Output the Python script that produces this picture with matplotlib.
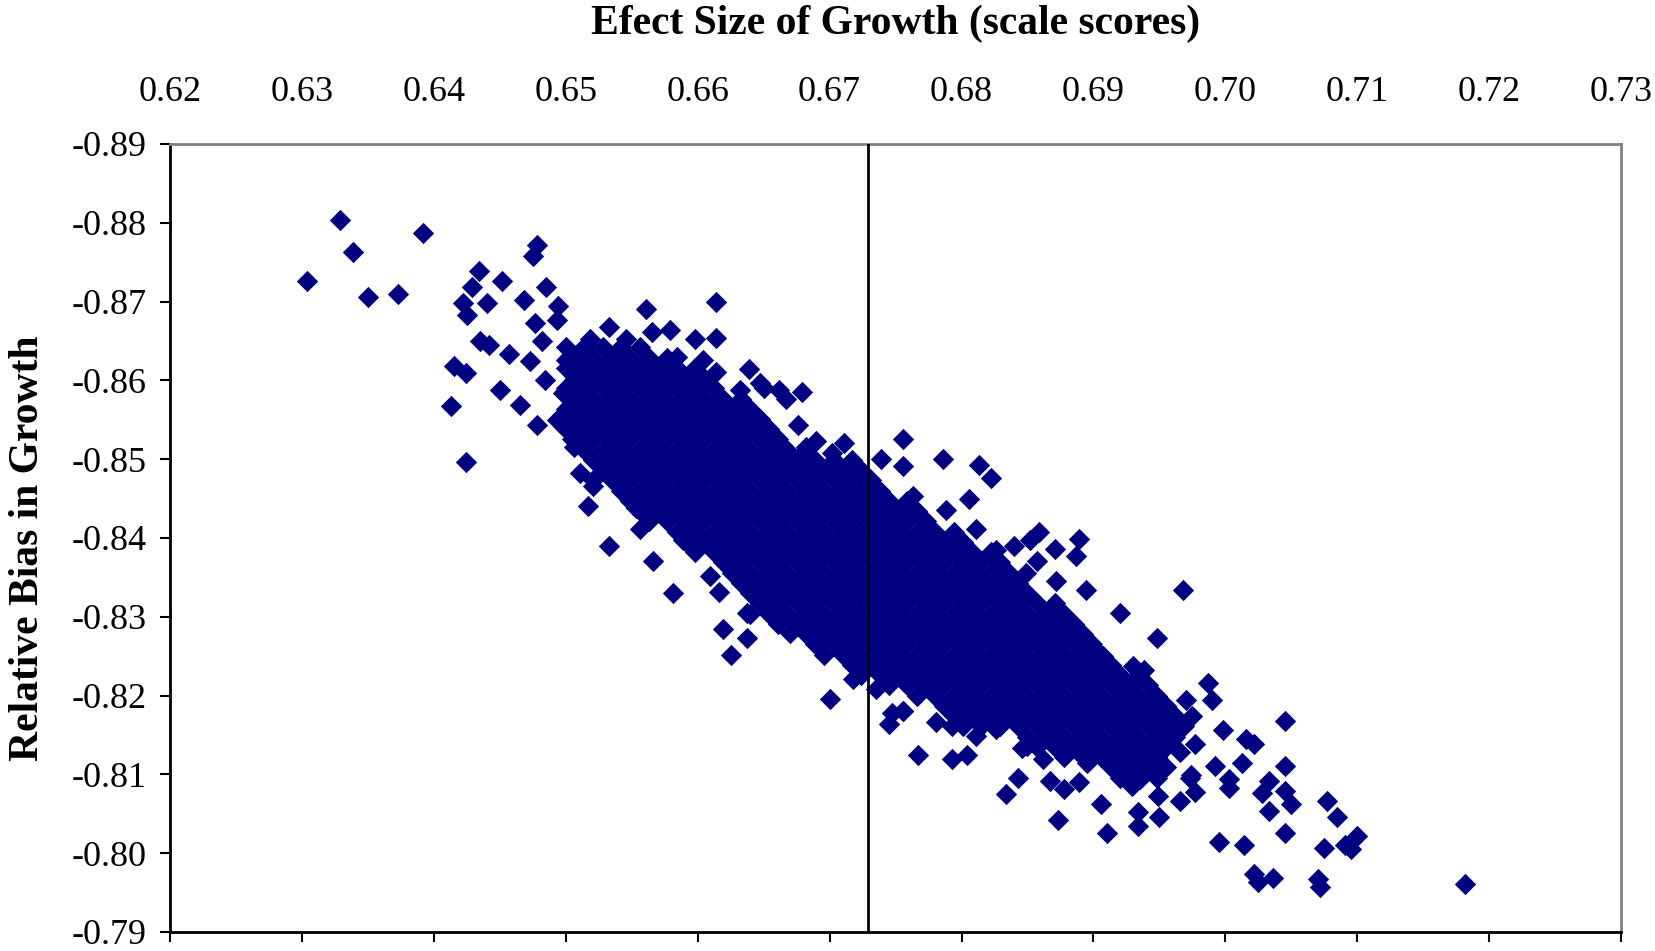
import matplotlib
matplotlib.use("Agg")
import matplotlib.pyplot as plt

plt.rcParams['font.family'] = ['Liberation Serif', 'DejaVu Serif']

# upper-left tail of the cloud (single points)
left_x = [0.6329, 0.6392, 0.6339, 0.6304, 0.6350, 0.6373, 0.6478, 0.6475, 0.6434, 0.6452,
          0.6429, 0.6485, 0.6422, 0.6440, 0.6425, 0.6468, 0.6494, 0.6477, 0.6493, 0.6561,
          0.6533, 0.6546, 0.6565, 0.6435, 0.6442, 0.6457, 0.6482, 0.6415, 0.6424, 0.6473,
          0.6450, 0.6484, 0.6465, 0.6413, 0.6478, 0.6493, 0.6424, 0.6517, 0.6511, 0.6521,
          0.6505, 0.6498, 0.6500, 0.6518, 0.6553]
left_y = [-0.8803, -0.8787, -0.8763, -0.8726, -0.8706, -0.8710, -0.8772, -0.8758, -0.8739, -0.8726,
          -0.8718, -0.8718, -0.8698, -0.8698, -0.8683, -0.8702, -0.8695, -0.8673, -0.8677, -0.8690,
          -0.8668, -0.8652, -0.8662, -0.8650, -0.8645, -0.8633, -0.8650, -0.8618, -0.8609, -0.8624,
          -0.8588, -0.8601, -0.8569, -0.8568, -0.8544, -0.8550, -0.8496, -0.8440, -0.8483, -0.8466,
          -0.8525, -0.8584, -0.8626, -0.8652, -0.8438]

# loose points along the edges of the dense middle
edge_x = [0.6614, 0.6579, 0.6598, 0.6614, 0.6639, 0.6614, 0.6662, 0.6679, 0.6647, 0.6676,
          0.6690, 0.6711, 0.6756, 0.6786, 0.6813, 0.6822, 0.6739, 0.6756, 0.6763, 0.6788,
          0.6806, 0.6811, 0.6826, 0.6840,
          0.6584, 0.6604, 0.6650, 0.6632, 0.6667, 0.6702, 0.6682,
          0.6533, 0.6566, 0.6581, 0.6616, 0.6609, 0.6589, 0.6556, 0.6521, 0.6506, 0.6498, 0.6637,
          0.6619, 0.6637, 0.6625, 0.6670, 0.6686, 0.6700, 0.6747, 0.6756, 0.6745, 0.6710,
          0.6718, 0.6735, 0.6758, 0.6781, 0.6793,
          0.6859, 0.6852, 0.6857, 0.6872, 0.6849]
edge_y = [-0.8700, -0.8664, -0.8652, -0.8654, -0.8614, -0.8611, -0.8588, -0.8585, -0.8597, -0.8544,
          -0.8523, -0.8521, -0.8525, -0.8500, -0.8493, -0.8476, -0.8500, -0.8491, -0.8453, -0.8436,
          -0.8449, -0.8411, -0.8385, -0.8390,
          -0.8630, -0.8626, -0.8590, -0.8588, -0.8576, -0.8508, -0.8516,
          -0.8390, -0.8371, -0.8330, -0.8331, -0.8352, -0.8398, -0.8411, -0.8474, -0.8516, -0.8542, -0.8305,
          -0.8285, -0.8273, -0.8252, -0.8280, -0.8273, -0.8196, -0.8178, -0.8181, -0.8164, -0.8286,
          -0.8221, -0.8208, -0.8216, -0.8166, -0.8162,
          -0.8407, -0.8398, -0.8371, -0.8345, -0.8356]

# lower-right tail of the cloud
right_x = [0.6968, 0.6948, 0.6920, 0.6894, 0.6889, 0.6887, 0.6871, 0.6987, 0.6990, 0.7045,
           0.6998, 0.7016, 0.7022, 0.6977, 0.6966, 0.6992, 0.7013, 0.7045, 0.7003, 0.7003,
           0.6973, 0.6977, 0.6966, 0.7033, 0.7028, 0.7045, 0.7050, 0.7033, 0.7045, 0.7077,
           0.7085, 0.7100, 0.7091, 0.7075, 0.6995, 0.7014, 0.6910, 0.6934, 0.6934, 0.6950,
           0.6906, 0.6873, 0.6834, 0.6843, 0.6767, 0.6793, 0.6804, 0.6756, 0.6867, 0.6889,
           0.6878, 0.6929, 0.6949, 0.6974, 0.6846, 0.6826, 0.6811, 0.6975, 0.6970, 0.6955,
           0.6938, 0.6930, 0.6907, 0.6934, 0.6960, 0.6950, 0.6940, 0.6935, 0.6910, 0.6895,
           0.6862, 0.6850,
           0.7182, 0.7072, 0.7070, 0.7022, 0.7036, 0.7025, 0.7095, 0.6917, 0.6909, 0.6950, 0.6937]
right_y = [-0.8334, -0.8273, -0.8305, -0.8334, -0.8399, -0.8377, -0.8386, -0.8216, -0.8195, -0.8168,
           -0.8156, -0.8145, -0.8139, -0.8139, -0.8128, -0.8111, -0.8115, -0.8111, -0.8094, -0.8083,
           -0.8096, -0.8078, -0.8066, -0.8092, -0.8077, -0.8079, -0.8062, -0.8054, -0.8026, -0.8066,
           -0.8046, -0.8022, -0.8010, -0.8006, -0.8014, -0.8010, -0.8026, -0.8034, -0.8052, -0.8046,
           -0.8063, -0.8042, -0.8075, -0.8095, -0.8124, -0.8119, -0.8124, -0.8180, -0.8092, -0.8090,
           -0.8081, -0.8085, -0.8073, -0.8099, -0.8134, -0.8157, -0.8149, -0.8174, -0.8195, -0.8187,
           -0.8233, -0.8237, -0.8250, -0.8195, -0.8153, -0.8145, -0.8119, -0.8094, -0.8119, -0.8115,
           -0.8119, -0.8136,
           -0.7961, -0.7957, -0.7967, -0.7974, -0.7969, -0.7963, -0.8005, -0.8114, -0.8127, -0.8128, -0.8103]

core_row_y = [-0.8642, -0.8629, -0.8616, -0.8603, -0.8590, -0.8577, -0.8564, -0.8551, -0.8538, -0.8525,
              -0.8512, -0.8499, -0.8486, -0.8473, -0.8460, -0.8447, -0.8434, -0.8421, -0.8408, -0.8395,
              -0.8382, -0.8369, -0.8356, -0.8343, -0.8330, -0.8317, -0.8304, -0.8291, -0.8278, -0.8265,
              -0.8252, -0.8239, -0.8226, -0.8213, -0.8200, -0.8187, -0.8174, -0.8161, -0.8148, -0.8135,
              -0.8122, -0.8109, -0.8096]
core_row_x = [
    [0.6500, 0.6514, 0.6528, 0.6542, 0.6556],
    [0.6507, 0.6521, 0.6535, 0.6549, 0.6563, 0.6577],
    [0.6500, 0.6514, 0.6528, 0.6542, 0.6556, 0.6570, 0.6584, 0.6598],
    [0.6507, 0.6521, 0.6535, 0.6549, 0.6563, 0.6577, 0.6591, 0.6605],
    [0.6500, 0.6514, 0.6528, 0.6542, 0.6556, 0.6570, 0.6584, 0.6598, 0.6612],
    [0.6507, 0.6521, 0.6535, 0.6549, 0.6563, 0.6577, 0.6591, 0.6605, 0.6619, 0.6633],
    [0.6500, 0.6514, 0.6528, 0.6542, 0.6556, 0.6570, 0.6584, 0.6598, 0.6612, 0.6626, 0.6640],
    [0.6507, 0.6521, 0.6535, 0.6549, 0.6563, 0.6577, 0.6591, 0.6605, 0.6619, 0.6633, 0.6647],
    [0.6500, 0.6514, 0.6528, 0.6542, 0.6556, 0.6570, 0.6584, 0.6598, 0.6612, 0.6626, 0.6640, 0.6654],
    [0.6507, 0.6521, 0.6535, 0.6549, 0.6563, 0.6577, 0.6591, 0.6605, 0.6619, 0.6633, 0.6647, 0.6661],
    [0.6514, 0.6528, 0.6542, 0.6556, 0.6570, 0.6584, 0.6598, 0.6612, 0.6626, 0.6640, 0.6654, 0.6668,
     0.6682],
    [0.6521, 0.6535, 0.6549, 0.6563, 0.6577, 0.6591, 0.6605, 0.6619, 0.6633, 0.6647, 0.6661, 0.6675,
     0.6689, 0.6703, 0.6717],
    [0.6528, 0.6542, 0.6556, 0.6570, 0.6584, 0.6598, 0.6612, 0.6626, 0.6640, 0.6654, 0.6668, 0.6682,
     0.6696, 0.6710, 0.6724],
    [0.6535, 0.6549, 0.6563, 0.6577, 0.6591, 0.6605, 0.6619, 0.6633, 0.6647, 0.6661, 0.6675, 0.6689,
     0.6703, 0.6717, 0.6731],
    [0.6542, 0.6556, 0.6570, 0.6584, 0.6598, 0.6612, 0.6626, 0.6640, 0.6654, 0.6668, 0.6682, 0.6696,
     0.6710, 0.6724, 0.6738],
    [0.6549, 0.6563, 0.6577, 0.6591, 0.6605, 0.6619, 0.6633, 0.6647, 0.6661, 0.6675, 0.6689, 0.6703,
     0.6717, 0.6731, 0.6745, 0.6759],
    [0.6556, 0.6570, 0.6584, 0.6598, 0.6612, 0.6626, 0.6640, 0.6654, 0.6668, 0.6682, 0.6696, 0.6710,
     0.6724, 0.6738, 0.6752, 0.6766],
    [0.6563, 0.6577, 0.6591, 0.6605, 0.6619, 0.6633, 0.6647, 0.6661, 0.6675, 0.6689, 0.6703, 0.6717,
     0.6731, 0.6745, 0.6759, 0.6773],
    [0.6584, 0.6598, 0.6612, 0.6626, 0.6640, 0.6654, 0.6668, 0.6682, 0.6696, 0.6710, 0.6724, 0.6738,
     0.6752, 0.6766, 0.6780, 0.6794],
    [0.6591, 0.6605, 0.6619, 0.6633, 0.6647, 0.6661, 0.6675, 0.6689, 0.6703, 0.6717, 0.6731, 0.6745,
     0.6759, 0.6773, 0.6787, 0.6801],
    [0.6598, 0.6612, 0.6626, 0.6640, 0.6654, 0.6668, 0.6682, 0.6696, 0.6710, 0.6724, 0.6738, 0.6752,
     0.6766, 0.6780, 0.6794, 0.6808, 0.6822],
    [0.6619, 0.6633, 0.6647, 0.6661, 0.6675, 0.6689, 0.6703, 0.6717, 0.6731, 0.6745, 0.6759, 0.6773,
     0.6787, 0.6801, 0.6815, 0.6829],
    [0.6626, 0.6640, 0.6654, 0.6668, 0.6682, 0.6696, 0.6710, 0.6724, 0.6738, 0.6752, 0.6766, 0.6780,
     0.6794, 0.6808, 0.6822, 0.6836],
    [0.6633, 0.6647, 0.6661, 0.6675, 0.6689, 0.6703, 0.6717, 0.6731, 0.6745, 0.6759, 0.6773, 0.6787,
     0.6801, 0.6815, 0.6829, 0.6843],
    [0.6640, 0.6654, 0.6668, 0.6682, 0.6696, 0.6710, 0.6724, 0.6738, 0.6752, 0.6766, 0.6780, 0.6794,
     0.6808, 0.6822, 0.6836, 0.6850],
    [0.6647, 0.6661, 0.6675, 0.6689, 0.6703, 0.6717, 0.6731, 0.6745, 0.6759, 0.6773, 0.6787, 0.6801,
     0.6815, 0.6829, 0.6843, 0.6857, 0.6871],
    [0.6640, 0.6654, 0.6668, 0.6682, 0.6696, 0.6710, 0.6724, 0.6738, 0.6752, 0.6766, 0.6780, 0.6794,
     0.6808, 0.6822, 0.6836, 0.6850, 0.6864, 0.6878],
    [0.6661, 0.6675, 0.6689, 0.6703, 0.6717, 0.6731, 0.6745, 0.6759, 0.6773, 0.6787, 0.6801, 0.6815,
     0.6829, 0.6843, 0.6857, 0.6871, 0.6885],
    [0.6682, 0.6696, 0.6710, 0.6724, 0.6738, 0.6752, 0.6766, 0.6780, 0.6794, 0.6808, 0.6822, 0.6836,
     0.6850, 0.6864, 0.6878, 0.6892],
    [0.6689, 0.6703, 0.6717, 0.6731, 0.6745, 0.6759, 0.6773, 0.6787, 0.6801, 0.6815, 0.6829, 0.6843,
     0.6857, 0.6871, 0.6885, 0.6899],
    [0.6696, 0.6710, 0.6724, 0.6738, 0.6752, 0.6766, 0.6780, 0.6794, 0.6808, 0.6822, 0.6836, 0.6850,
     0.6864, 0.6878, 0.6892, 0.6906],
    [0.6717, 0.6731, 0.6745, 0.6759, 0.6773, 0.6787, 0.6801, 0.6815, 0.6829, 0.6843, 0.6857, 0.6871,
     0.6885, 0.6899, 0.6913],
    [0.6724, 0.6738, 0.6752, 0.6766, 0.6780, 0.6794, 0.6808, 0.6822, 0.6836, 0.6850, 0.6864, 0.6878,
     0.6892, 0.6906, 0.6920, 0.6934],
    [0.6745, 0.6759, 0.6773, 0.6787, 0.6801, 0.6815, 0.6829, 0.6843, 0.6857, 0.6871, 0.6885, 0.6899,
     0.6913, 0.6927, 0.6941],
    [0.6766, 0.6780, 0.6794, 0.6808, 0.6822, 0.6836, 0.6850, 0.6864, 0.6878, 0.6892, 0.6906, 0.6920,
     0.6934, 0.6948],
    [0.6787, 0.6801, 0.6815, 0.6829, 0.6843, 0.6857, 0.6871, 0.6885, 0.6899, 0.6913, 0.6927, 0.6941,
     0.6955],
    [0.6794, 0.6808, 0.6822, 0.6836, 0.6850, 0.6864, 0.6878, 0.6892, 0.6906, 0.6920, 0.6934, 0.6948,
     0.6962],
    [0.6801, 0.6815, 0.6829, 0.6843, 0.6857, 0.6871, 0.6885, 0.6899, 0.6913, 0.6927, 0.6941, 0.6955,
     0.6969],
    [0.6850, 0.6864, 0.6878, 0.6892, 0.6906, 0.6920, 0.6934, 0.6948, 0.6962],
    [0.6857, 0.6871, 0.6885, 0.6899, 0.6913, 0.6927, 0.6941, 0.6955],
    [0.6878, 0.6892, 0.6906, 0.6920, 0.6934, 0.6948],
    [0.6913, 0.6927, 0.6941, 0.6955],
    [0.6920, 0.6934, 0.6948],
]

# reference line
cut_x = 0.6729

x_ticks = [0.62, 0.63, 0.64, 0.65, 0.66, 0.67, 0.68, 0.69, 0.70, 0.71, 0.72, 0.73]
y_ticks = [-0.89, -0.88, -0.87, -0.86, -0.85, -0.84, -0.83, -0.82, -0.81, -0.80, -0.79]

core_x = [x for row in core_row_x for x in row]
core_y = [y for y, row in zip(core_row_y, core_row_x) for _ in row]

all_x = core_x + left_x + edge_x + right_x
all_y = core_y + left_y + edge_y + right_y

fig = plt.figure(figsize=(16.56, 9.51), dpi=100)
ax = fig.add_axes([0.1027, 0.0200, 0.8762, 0.8286])

ax.scatter(all_x, all_y, marker='D', s=118, color='#000080', linewidths=0, zorder=2)
ax.axvline(cut_x, color='black', lw=2, zorder=3)

ax.set_xlim(0.62, 0.73)
ax.set_ylim(-0.79, -0.89)

ax.set_xticks(x_ticks)
ax.set_xticklabels([f'{v:.2f}' for v in x_ticks])
ax.set_yticks(y_ticks)
ax.set_yticklabels([f'{v:.2f}' for v in y_ticks])

ax.tick_params(axis='x', bottom=True, top=False, labelbottom=False, labeltop=True,
               direction='out', length=7, width=1.5, labelsize=26, pad=18)
ax.tick_params(axis='y', left=True, direction='out', length=7, width=1.5, labelsize=26, pad=10)

for side in ['left', 'bottom']:
    ax.spines[side].set_color('black')
    ax.spines[side].set_linewidth(2)
for side in ['top', 'right']:
    ax.spines[side].set_color('#808080')
    ax.spines[side].set_linewidth(2)

ax.xaxis.set_label_position('top')
ax.set_xlabel('Efect Size of Growth (scale scores)', fontsize=30, fontweight='bold')
ax.xaxis.set_label_coords(0.5, 1.140)
ax.set_ylabel('Relative Bias in Growth', fontsize=30, fontweight='bold')
ax.yaxis.set_label_coords(-0.085, 0.487)

fig.savefig('out.png', dpi=100)
